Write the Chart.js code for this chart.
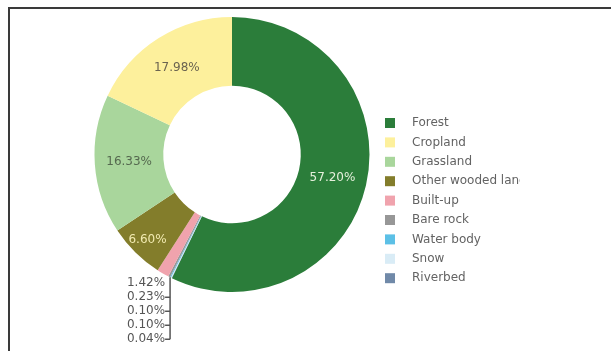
<!DOCTYPE html>
<html>
<head>
<meta charset="utf-8">
<title>Land cover</title>
<script src="https://cdn.jsdelivr.net/npm/chart.js@4.4.1/dist/chart.umd.min.js"></script>
<style>
  html, body { margin: 0; padding: 0; background: #fff; }
  #frame { position: absolute; left: 8px; top: 7px; width: 700px; height: 400px; border: 2px solid #3a3a3a; }
  #chart { position: absolute; left: 0; top: 0; }
</style>
</head>
<body>
<div id="frame"></div>
<canvas id="chart" width="611" height="351"></canvas>
<script>
const categories = ["Forest", "Cropland", "Grassland", "Other wooded land", "Built-up", "Bare rock", "Water body", "Snow", "Riverbed"];
const shares = [57.20, 17.98, 16.33, 6.60, 1.42, 0.23, 0.10, 0.10, 0.04];
const colors = ["#2b7d3a", "#fdf09c", "#a9d69c", "#837d2b", "#f0a3ad", "#979797", "#5cc0e6", "#d9ecf6", "#7089a8"];
const labelColors = ["#e6f0dc", "#6b6450", "#55694f", "#f1eab0", "#555", "#555", "#555", "#555", "#555"];

// ring goes clockwise from the top: forest first, then the rest backwards
const drawOrder = [0, 8, 7, 6, 5, 4, 3, 2, 1];

const FONT = "12px 'DejaVu Sans', Verdana, sans-serif";

const sliceLabels = {
  id: "sliceLabels",
  afterDatasetsDraw(chart) {
    const ctx = chart.ctx;
    const arcs = chart.getDatasetMeta(0).data;
    const small = [];
    ctx.save();
    ctx.font = FONT;
    ctx.textBaseline = "middle";
    arcs.forEach((arc, i) => {
      const k = drawOrder[i];
      const v = shares[k];
      const p = arc.getProps(["x", "y", "startAngle", "endAngle", "innerRadius", "outerRadius"], true);
      if (v < 5) {
        small.push({ k, v, p });
        return;
      }
      const mid = (p.startAngle + p.endAngle) / 2;
      const t = v < 10 ? 0.75 : 0.5;
      const r = p.innerRadius + (p.outerRadius - p.innerRadius) * t;
      ctx.fillStyle = labelColors[k];
      ctx.textAlign = "center";
      ctx.fillText(v.toFixed(2) + "%", p.x + Math.cos(mid) * r, p.y + Math.sin(mid) * r);
    });

    // stacked labels for the thin slices, hung off one leader line
    if (small.length) {
      const tiny = small.filter(s => s.v < 1);
      const start = Math.min(...tiny.map(s => s.p.startAngle));
      const end = Math.max(...tiny.map(s => s.p.endAngle));
      const mid = (start + end) / 2;
      const p = tiny[0].p;
      const ax = p.x + Math.cos(mid) * p.outerRadius;
      const ay = p.y + Math.sin(mid) * p.outerRadius;
      small.sort((a, b) => a.k - b.k);
      const step = 14;
      const y0 = ay + 6;
      const yEnd = y0 + step * (small.length - 1);
      ctx.strokeStyle = "#555";
      ctx.lineWidth = 1.5;
      ctx.beginPath();
      ctx.moveTo(ax, ay);
      ctx.lineTo(ax, yEnd);
      ctx.stroke();
      ctx.textAlign = "right";
      small.forEach((s, j) => {
        const y = y0 + step * j;
        ctx.fillStyle = labelColors[s.k];
        ctx.fillText(s.v.toFixed(2) + "%", ax - 5, y);
        if (j > 0) {
          ctx.beginPath();
          ctx.moveTo(ax - 5, y);
          ctx.lineTo(ax, y);
          ctx.stroke();
        }
      });
    }
    ctx.restore();
  }
};

// legend on the right, cut off at the frame edge
const sideLegend = {
  id: "sideLegend",
  afterDraw(chart) {
    const ctx = chart.ctx;
    const left = 385, top = 123, rowH = 19.4, box = 10, clipRight = 520;
    ctx.save();
    ctx.beginPath();
    ctx.rect(left - 5, top - 15, clipRight - left + 5, rowH * categories.length + 20);
    ctx.clip();
    ctx.font = FONT;
    ctx.textBaseline = "middle";
    ctx.textAlign = "left";
    categories.forEach((c, i) => {
      const y = top + rowH * i;
      ctx.fillStyle = colors[i];
      ctx.fillRect(left, y - box / 2, box, box);
      ctx.fillStyle = "#636363";
      ctx.fillText(c, left + 27, y);
    });
    ctx.restore();
  }
};

new Chart(document.getElementById("chart"), {
  type: "doughnut",
  data: {
    labels: drawOrder.map(k => categories[k]),
    datasets: [{
      data: drawOrder.map(k => shares[k]),
      backgroundColor: drawOrder.map(k => colors[k]),
      borderWidth: 0,
    }],
  },
  options: {
    responsive: false,
    animation: false,
    cutout: "50%",
    layout: { padding: { top: 17, bottom: 59, left: 80, right: 227 } },
    plugins: {
      legend: { display: false },
      tooltip: { enabled: false },
    },
  },
  plugins: [sliceLabels, sideLegend],
});
</script>
</body>
</html>
